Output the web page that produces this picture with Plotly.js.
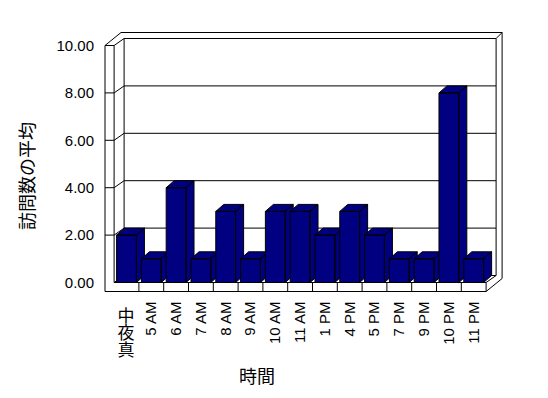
<!DOCTYPE html>
<html><head><meta charset="utf-8">
<script src="https://cdn.plot.ly/plotly-3.0.1.min.js"></script>
<style>html,body{margin:0;padding:0;background:#fff;} #chart{width:548px;height:398px;}</style>
</head><body><div id="chart"></div>
<script>
// ---- data ----
const categories = ["真夜中","5 AM","6 AM","7 AM","8 AM","9 AM","10 AM","11 AM","1 PM","4 PM","5 PM","7 PM","9 PM","10 PM","11 PM"];
const visits = [2,1,4,1,3,1,3,3,2,3,2,1,1,8,1];
const yTickValues = [0,2,4,6,8,10];
const yTickLabels = ["0.00","2.00","4.00","6.00","8.00","10.00"];
const xTitle = "時間";
const yTitle = "訪問数の平均";

// ---- geometry (pixels) ----
const plotL=9, plotR=505, plotT=30, plotB=322;
const pxPerCat=24.8, x0px=126.5;
const pxPerUnit=23.7, y0px=282.5;
const xRange=[(plotL-x0px)/pxPerCat,(plotR-x0px)/pxPerCat];
const yRange=[(y0px-plotB)/pxPerUnit,(y0px-plotT)/pxPerUnit];
const X = px => (px-x0px)/pxPerCat;
const Y = py => (y0px-py)/pxPerUnit;
const PX = x => x0px + x*pxPerCat;
const PY = y => y0px - y*pxPerUnit;

// bars with 3D faces
const barHalf=0.4, bdx=8/pxPerCat, bdy=7/pxPerUnit;
const traces = visits.map((v,i)=>{
  const l=i-barHalf, r=i+barHalf;
  const xs=[l,r,r,l,l,null, r,r+bdx,r+bdx,r,r,null, l,r,r+bdx,l+bdx,l];
  const ys=[0,0,v,v,0,null, 0,bdy,v+bdy,v,0,null, v,v,v+bdy,v+bdy,v];
  return {type:'scatter',mode:'lines',x:xs,y:ys,fill:'toself',fillcolor:'#000080',
    line:{color:'#000000',width:1},hoverinfo:'skip',showlegend:false,name:categories[i]};
});

// frame (walls, floor, gridlines)
const DX=10, DY=7, TX=6, TY=6, outerL=105, floorBot=291.5;
const xL=PX(-0.5), xR=PX(categories.length-0.5);
const yTop=PY(10), yFl=PY(0);
const segs=[];
const seg=(a,b,c,d)=>segs.push([a,b,c,d]);
seg(outerL,yTop,outerL,floorBot);
seg(xL,yTop,xL,yFl);
seg(outerL,yTop,outerL+DX+TX,yTop-DY-TY);
seg(outerL+DX+TX,yTop-DY-TY,xR+DX+TX,yTop-DY-TY);
seg(xR+DX,yTop-DY,xR+DX+TX,yTop-DY-TY);
seg(xR+DX,yTop-DY,xR+DX,yFl-DY);
seg(xR+DX+TX,yTop-DY-TY,xR+DX+TX,floorBot-DY-TY);
seg(xR,floorBot,xR+DX+TX,floorBot-DY-TY);
seg(xR,yFl,xR+DX,yFl-DY);
seg(xL,yFl,xR,yFl);
seg(outerL,floorBot,xR,floorBot);
seg(xR,yFl,xR,floorBot);
for(let i=0;i<categories.length-1;i++){ const b=PX(i+0.5); seg(b,yFl,b,floorBot); }
seg(xL+DX,yTop-DY,xL+DX,yFl-DY);
yTickValues.forEach(v=>{
  const p=PY(v);
  if(v>0) seg(outerL,p,xL,p);
  seg(xL,p,xL+DX,p-DY);
  seg(xL+DX,p-DY,xR+DX,p-DY);
});
const shapes=segs.map(s=>({type:'line',xref:'x',yref:'y',layer:'below',
  x0:X(s[0]),y0:Y(s[1]),x1:X(s[2]),y1:Y(s[3]),line:{color:'#000000',width:1}}));

const fontFam='"Liberation Sans", Arial, "Noto Sans CJK JP", sans-serif';
const layout={
  width:548,height:398,margin:{l:plotL,r:548-plotR,t:plotT,b:398-plotB,pad:0},
  paper_bgcolor:'#ffffff',plot_bgcolor:'rgba(0,0,0,0)',
  font:{family:fontFam,size:15,color:'#000000'},
  showlegend:false,
  xaxis:{range:xRange,anchor:'free',position:(plotB-floorBot)/(plotB-plotT),
    tickmode:'array',tickvals:categories.map((_,i)=>i),ticktext:categories,tickangle:-90,
    showgrid:false,zeroline:false,showline:false,ticks:'',ticklabelstandoff:6,
    tickfont:{size:15},
    title:{text:xTitle,font:{size:18,family:'"Noto Sans CJK JP", sans-serif'},standoff:24},fixedrange:true},
  yaxis:{range:yRange,anchor:'free',position:(100-plotL)/(plotR-plotL),
    tickmode:'array',tickvals:yTickValues,ticktext:yTickLabels,
    showgrid:false,zeroline:false,showline:false,ticks:'',ticklabelstandoff:6,
    tickfont:{size:15},
    title:{text:yTitle,font:{size:18,family:'"Noto Sans CJK JP", sans-serif'},standoff:16},fixedrange:true},
  shapes:shapes
};
const gd=document.getElementById('chart');
function uprightCJK(){
  gd.querySelectorAll('.xtick text').forEach(t=>{
    if(!/[\u3000-\u9fff]/.test(t.textContent)) return;
    const b0=t.getBoundingClientRect();
    t.style.fontSize='17px';
    t.style.fontFamily='"Noto Sans CJK JP", sans-serif';
    t.setAttribute('rotate','90');
    const b1=t.getBoundingClientRect();
    const dx=(b0.left+b0.width/2)-(b1.left+b1.width/2);
    const dy=b0.top-b1.top;
    t.setAttribute('transform','translate('+dx+','+dy+') '+(t.getAttribute('transform')||''));
  });
}
Plotly.newPlot(gd,traces,layout,{displayModeBar:false,staticPlot:true}).then(uprightCJK);
</script></body></html>
